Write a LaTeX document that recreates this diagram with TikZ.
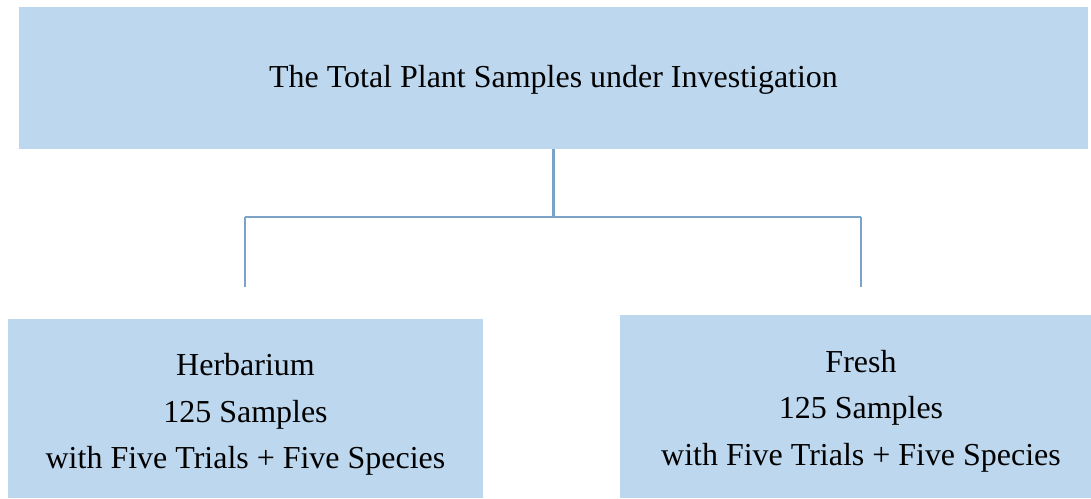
\documentclass[tikz,border=0pt]{standalone}
\usepackage{fontspec}
\setmainfont{Liberation Serif}
\definecolor{boxblue}{HTML}{BDD7EE}
\definecolor{linkblue}{HTML}{7BA3C8}
\begin{document}
\begin{tikzpicture}[x=0.02cm,y=-0.02cm,
    samplebox/.style={fill=boxblue,inner sep=0pt},
    sampletext/.style={inner sep=0pt,align=center,font=\fontsize{18.2}{26.5}\selectfont},
    link/.style={draw=linkblue}]
    \useasboundingbox (0,0) rectangle (1091,498);
    % boxes
    \node[samplebox,minimum width=21.38cm,minimum height=2.84cm] (total) at (553.5,78) {};
    \node[samplebox,minimum width=9.5cm,minimum height=3.58cm] (herb) at (245.5,408.5) {};
    \node[samplebox,minimum width=9.42cm,minimum height=3.66cm] (fresh) at (855.5,406.5) {};
    % texts
    \node[sampletext] (totaltext) at ([yshift=-0.04cm]total.center)
        {The Total Plant Samples under Investigation};
    \node[sampletext] (herbtext) at ([yshift=-0.12cm]herb.center)
        {Herbarium\\125 Samples\\with Five Trials + Five Species};
    \node[sampletext] (freshtext) at ([xshift=0.11cm,yshift=-0.09cm]fresh.center)
        {Fresh\\125 Samples\\with Five Trials + Five Species};
    % tree lines
    \coordinate (hub) at (total.south |- 0,217);
    \coordinate (lj) at (245,217);
    \coordinate (rj) at (861,217);
    \coordinate (lend) at (245,287);
    \coordinate (rend) at (861,287);
    \draw[link,line width=1.6pt] (total.south)--(hub);
    \draw[link,line width=1.1pt] (lj)--(rj);
    \draw[link,line width=0.6pt] (lend)--(lj) (rj)--(rend);
\end{tikzpicture}
\end{document}
